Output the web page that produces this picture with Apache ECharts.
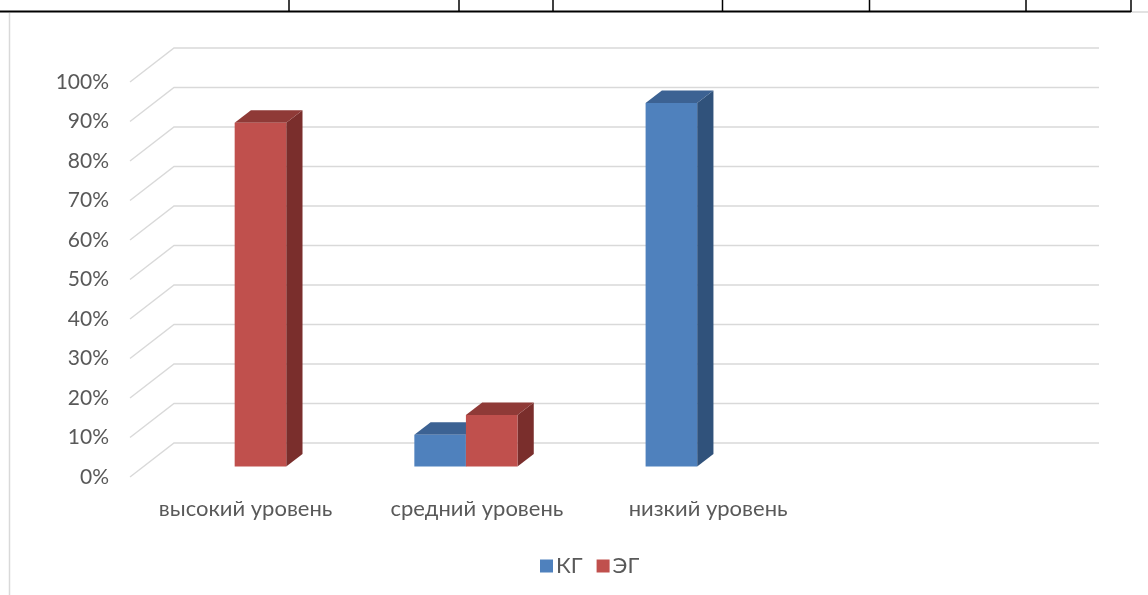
<!DOCTYPE html>
<html>
<head>
<meta charset="utf-8">
<script src="https://cdn.jsdelivr.net/npm/echarts@6/dist/echarts.min.js"></script>
<style>
  html, body { margin: 0; padding: 0; background: #fff; }
  #chart { width: 1148px; height: 595px; }
</style>
</head>
<body>
<div id="chart"></div>
<script>
// Levels shown along the floor; the last slot is left empty
const categories = ['высокий уровень', 'средний уровень', 'низкий уровень', ''];
const seriesNames = ['КГ', 'ЭГ'];
const kgValues = [0, 0.08, 0.92, 0];
const egValues = [0.87, 0.13, 0, 0];
const yTicks = [0, 0.1, 0.2, 0.3, 0.4, 0.5, 0.6, 0.7, 0.8, 0.9, 1];

// Oblique projection of the chart box (front plane -> back wall)
const WALL_DX = 44, WALL_DY = -34;
// Bars stand between these depth fractions of the box
const BAR_D0 = 0.31, BAR_D1 = 0.68;
const BAR_WIDTH_RATIO = 0.223;
const PAIR_SHIFT = -24.6;

const FONT = 'Lato, "Open Sans", "Noto Sans", sans-serif';
const TEXT_COLOR = '#595959';

const palette = {
  'КГ': { front: '#4F81BD', top: '#3C6293', side: '#30527B' },
  'ЭГ': { front: '#C0504D', top: '#8F3A37', side: '#7A2E2C' }
};

const chart = echarts.init(document.getElementById('chart'), null, { renderer: 'canvas' });

function wallItem(params, api) {
  const cs = params.coordSys;
  const y = api.coord([0, api.value(1)])[1];
  const left = cs.x, right = cs.x + cs.width;
  return {
    type: 'polyline',
    shape: {
      points: [
        [left, y],
        [left + WALL_DX, y + WALL_DY],
        [right + WALL_DX, y + WALL_DY]
      ]
    },
    style: { stroke: '#D9D9D9', lineWidth: 1.4, fill: null },
    silent: true
  };
}

function barRenderer(seriesIndex) {
  const name = seriesNames[seriesIndex];
  const col = palette[name];
  return function (params, api) {
    const v = api.value(1);
    if (!v) return null;
    const idx = api.value(0);
    const topPt = api.coord([idx, v]);
    const basePt = api.coord([idx, 0]);
    const band = api.size([1, 0])[0];
    const bw = band * BAR_WIDTH_RATIO;
    const center = topPt[0] + PAIR_SHIFT;
    const ox = WALL_DX * BAR_D0, oy = WALL_DY * BAR_D0;
    const ddx = WALL_DX * (BAR_D1 - BAR_D0), ddy = WALL_DY * (BAR_D1 - BAR_D0);
    const x0 = (seriesIndex === 0 ? center - bw : center) + ox;
    const x1 = x0 + bw;
    const yt = topPt[1] + oy;
    const yb = basePt[1] + oy;
    return {
      type: 'group',
      children: [
        {
          type: 'polygon',
          shape: { points: [[x1, yt], [x1 + ddx, yt + ddy], [x1 + ddx, yb + ddy], [x1, yb]] },
          style: { fill: col.side }
        },
        {
          type: 'polygon',
          shape: { points: [[x0, yt], [x1, yt], [x1 + ddx, yt + ddy], [x0 + ddx, yt + ddy]] },
          style: { fill: col.top }
        },
        {
          type: 'rect',
          shape: { x: x0, y: yt, width: bw, height: yb - yt },
          style: { fill: col.front }
        }
      ]
    };
  };
}

const option = {
  backgroundColor: '#ffffff',
  animation: false,
  textStyle: { fontFamily: FONT },
  grid: { left: 130, right: 93, top: 82, bottom: 118, containLabel: false },
  xAxis: {
    type: 'category',
    data: categories,
    boundaryGap: true,
    axisLine: { show: false },
    axisTick: { show: false },
    axisLabel: { color: TEXT_COLOR, fontSize: 22, fontFamily: FONT, margin: 21, interval: 0 },
    splitLine: { show: false }
  },
  yAxis: {
    type: 'value',
    min: 0,
    max: 1,
    interval: 0.1,
    axisLine: { show: false },
    axisTick: { show: false },
    splitLine: { show: false },
    axisLabel: {
      color: TEXT_COLOR, fontSize: 21, fontFamily: FONT, margin: 21,
      formatter: v => Math.round(v * 100) + '%'
    }
  },
  legend: {
    data: seriesNames,
    left: 535,
    top: 550,
    itemWidth: 13,
    itemHeight: 13,
    itemGap: 14,
    icon: 'rect',
    textStyle: { color: TEXT_COLOR, fontSize: 22, fontFamily: FONT, padding: [0, 0, 0, -2] }
  },
  graphic: [
    // surrounding table frame
    { type: 'line', shape: { x1: 0, y1: 11.5, x2: 1131, y2: 11.5 }, style: { stroke: '#000', lineWidth: 2 } },
    { type: 'line', shape: { x1: 1131, y1: 12, x2: 1148, y2: 12 }, style: { stroke: '#D9D9D9', lineWidth: 1.5 } },
    { type: 'line', shape: { x1: 289, y1: 0, x2: 289, y2: 12 }, style: { stroke: '#000', lineWidth: 1.5 } },
    { type: 'line', shape: { x1: 459, y1: 0, x2: 459, y2: 12 }, style: { stroke: '#000', lineWidth: 1.5 } },
    { type: 'line', shape: { x1: 553, y1: 0, x2: 553, y2: 12 }, style: { stroke: '#000', lineWidth: 1.5 } },
    { type: 'line', shape: { x1: 722.5, y1: 0, x2: 722.5, y2: 12 }, style: { stroke: '#000', lineWidth: 1.5 } },
    { type: 'line', shape: { x1: 869.5, y1: 0, x2: 869.5, y2: 12 }, style: { stroke: '#000', lineWidth: 1.5 } },
    { type: 'line', shape: { x1: 1026, y1: 0, x2: 1026, y2: 12 }, style: { stroke: '#000', lineWidth: 1.5 } },
    { type: 'line', shape: { x1: 1131, y1: 0, x2: 1131, y2: 12 }, style: { stroke: '#000', lineWidth: 1.5 } },
    { type: 'line', shape: { x1: 9.5, y1: 13, x2: 9.5, y2: 595 }, style: { stroke: '#D9D9D9', lineWidth: 1.5 } }
  ],
  series: [
    {
      type: 'custom',
      name: 'wall',
      renderItem: wallItem,
      data: yTicks.map(v => [0, v]),
      silent: true,
      z: 1
    },
    {
      type: 'custom',
      name: seriesNames[0],
      renderItem: barRenderer(0),
      itemStyle: { color: palette['КГ'].front },
      data: kgValues.map((v, i) => [i, v]),
      z: 2
    },
    {
      type: 'custom',
      name: seriesNames[1],
      renderItem: barRenderer(1),
      itemStyle: { color: palette['ЭГ'].front },
      data: egValues.map((v, i) => [i, v]),
      z: 3
    }
  ]
};

chart.setOption(option);
</script>
</body>
</html>
